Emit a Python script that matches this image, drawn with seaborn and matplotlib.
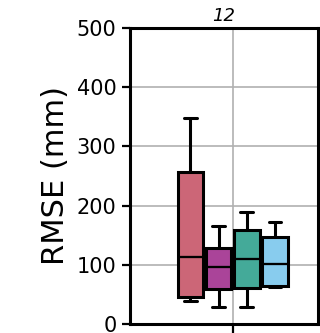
import matplotlib
matplotlib.use("Agg")
import matplotlib.pyplot as plt
import seaborn as sns
import pandas as pd

# Five-number summaries (whisker low, Q1, median, Q3, whisker high) per model, RMSE in mm
lead_time = ["12"]
models = ["M1", "M2", "M3", "M4"]
m1_rmse = [39, 45, 113, 257, 348]
m2_rmse = [29, 59, 96, 128, 165]
m3_rmse = [29, 61, 110, 159, 189]
m4_rmse = [62, 64, 101, 147, 172]
colors = ["#CC6677", "#AA4499", "#44AA99", "#88CCEE"]
yticks = [0, 100, 200, 300, 400, 500]

rows = []
for name, vals in zip(models, [m1_rmse, m2_rmse, m3_rmse, m4_rmse]):
    for v in vals:
        rows.append({"lead": lead_time[0], "model": name, "rmse": v})
df = pd.DataFrame(rows)

sns.set_style("white")
plt.rcParams.update({"text.color": "black", "axes.labelcolor": "black",
                     "xtick.color": "black", "ytick.color": "black"})
fig = plt.figure(figsize=(3.2, 3.33), dpi=100)
ax = fig.add_axes([0.405, 0.027, 0.588, 0.889])

lw = 2.2
sns.boxplot(
    data=df, x="lead", y="rmse", hue="model", palette=colors,
    width=0.6, gap=0.1, saturation=1, whis=1.5, showfliers=False,
    linewidth=lw, linecolor="black", legend=False, ax=ax,
    boxprops=dict(edgecolor="black", linewidth=lw),
    whiskerprops=dict(color="black", linewidth=lw),
    capprops=dict(color="black", linewidth=lw),
    medianprops=dict(color="black", linewidth=lw * 0.75),
)

ax.set_ylim(0, 500)
ax.set_yticks(yticks)
ax.set_xlim(-0.548, 0.452)
ax.grid(True, color="#b0b0b0", linewidth=1.2)
ax.set_axisbelow(True)
for s in ax.spines.values():
    s.set_color("black")
    s.set_linewidth(2.2)
ax.tick_params(axis="y", length=6, width=1.6, labelsize=15, left=True)
ax.tick_params(axis="x", length=8, width=1.6, labelbottom=False, bottom=True)
ax.set_xlabel("")
ax.set_ylabel("RMSE (mm)", fontsize=22, labelpad=5)
ax.set_title(lead_time[0], fontsize=13, style="italic", pad=5)

fig.savefig("out.png", dpi=100)
